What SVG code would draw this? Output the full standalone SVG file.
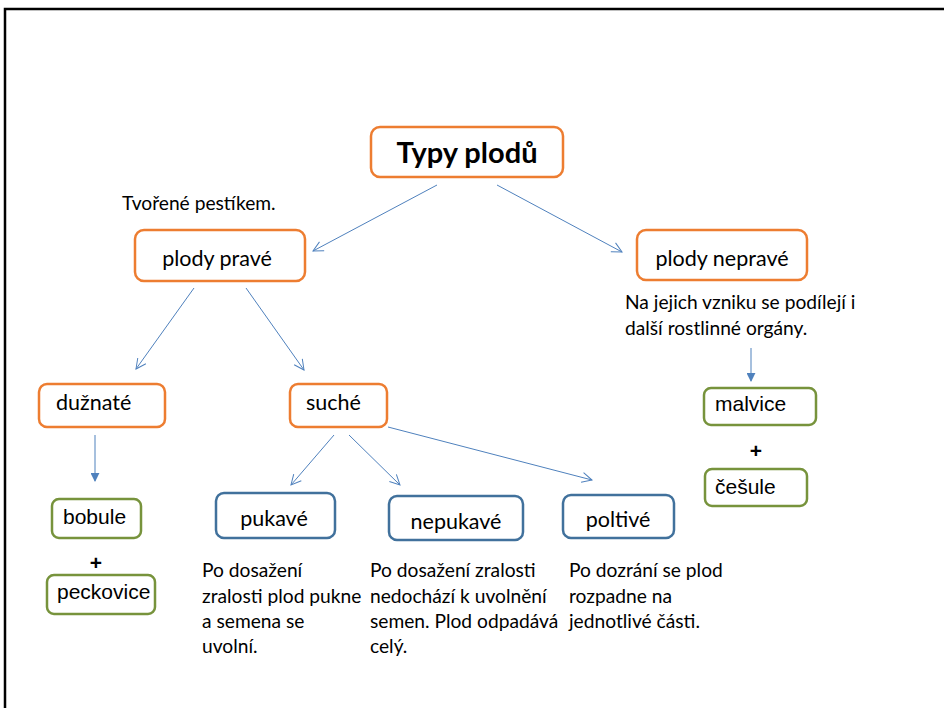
<svg xmlns="http://www.w3.org/2000/svg" width="944" height="708" viewBox="0 0 944 708">
  <style>
    .bg { fill: #ffffff; }
    .frame { fill: none; stroke: #000000; stroke-width: 2.5; }
    .box { fill: #ffffff; stroke-width: 2.5; }
    .orange { stroke: #ED7D31; }
    .blue { stroke: #41719C; }
    .green { stroke: #77933C; }
    .lbl { font-family: Lato, "Open Sans", sans-serif; font-size: 21.5px; fill: #000000; }
    .title { font-family: Lato, "Open Sans", sans-serif; font-size: 29px; font-weight: bold; fill: #000000; }
    .arial { font-family: "Liberation Sans", Arial, sans-serif; font-size: 21px; fill: #000000; }
    .note { font-family: Lato, "Open Sans", sans-serif; font-size: 19.2px; fill: #000000; }
    .conn { fill: none; stroke: #4F81BD; stroke-width: 1; }
  </style>
  <defs>
    <marker id="open" viewBox="0 0 12 12" refX="11" refY="6" markerWidth="12" markerHeight="12" markerUnits="userSpaceOnUse" orient="auto">
      <path d="M1,1 L11,6 L1,11" fill="none" stroke="#4F81BD" stroke-width="1"/>
    </marker>
    <marker id="solid" viewBox="0 0 10 10" refX="9" refY="5" markerWidth="9" markerHeight="9" markerUnits="userSpaceOnUse" orient="auto">
      <path d="M0,0 L10,5 L0,10 Z" fill="#4F81BD"/>
    </marker>
  </defs>

  <rect class="bg" x="0" y="0" width="944" height="708"/>
  <rect class="frame" x="5" y="9" width="1000" height="800"/>

  <!-- connectors -->
  <g id="connectors">
    <line class="conn" x1="437" y1="185" x2="313" y2="251" marker-end="url(#open)"/>
    <line class="conn" x1="497" y1="185" x2="622" y2="252" marker-end="url(#open)"/>
    <line class="conn" x1="194" y1="288" x2="136" y2="369" marker-end="url(#open)"/>
    <line class="conn" x1="246" y1="288" x2="304" y2="370" marker-end="url(#open)"/>
    <line class="conn" x1="95" y1="435" x2="95" y2="481" marker-end="url(#solid)"/>
    <line class="conn" x1="751" y1="348" x2="751" y2="381" marker-end="url(#solid)"/>
    <line class="conn" x1="334" y1="435" x2="291" y2="485" marker-end="url(#open)"/>
    <line class="conn" x1="349" y1="435" x2="400" y2="485" marker-end="url(#open)"/>
    <line class="conn" x1="388" y1="427" x2="592" y2="480" marker-end="url(#open)"/>
  </g>

  <!-- root -->
  <g id="typy-plodu">
    <rect class="box orange" x="371" y="127" width="192" height="50" rx="9"/>
    <text class="title" x="467" y="163" text-anchor="middle">Typy plodů</text>
  </g>

  <!-- first level -->
  <g id="plody-prave">
    <text class="note" x="122" y="210">Tvořené pestíkem.</text>
    <rect class="box orange" x="135" y="230" width="170" height="51" rx="9"/>
    <text class="lbl" x="217" y="266" text-anchor="middle">plody pravé</text>
  </g>
  <g id="plody-neprave">
    <rect class="box orange" x="637" y="230" width="170" height="50" rx="9"/>
    <text class="lbl" x="722" y="266" text-anchor="middle">plody nepravé</text>
    <text class="note" x="625" y="309">Na jejich vzniku se podílejí i</text>
    <text class="note" x="625" y="335">další rostlinné orgány.</text>
  </g>

  <!-- second level -->
  <g id="duznate">
    <rect class="box orange" x="39" y="384" width="126" height="43" rx="8"/>
    <text class="lbl" x="56" y="410">dužnaté</text>
  </g>
  <g id="suche">
    <rect class="box orange" x="290" y="384" width="97" height="43" rx="8"/>
    <text class="lbl" x="306" y="410">suché</text>
  </g>
  <g id="malvice">
    <rect class="box green" x="704" y="388" width="112" height="37" rx="7"/>
    <text class="arial" x="715" y="411">malvice</text>
  </g>
  <g id="plus-right">
    <text class="arial" x="756" y="458" text-anchor="middle" font-weight="bold">+</text>
  </g>
  <g id="cesule">
    <rect class="box green" x="705" y="469" width="102" height="37" rx="7"/>
    <text class="arial" x="715" y="494">češule</text>
  </g>

  <!-- third level -->
  <g id="bobule">
    <rect class="box green" x="52" y="499" width="89" height="39" rx="7"/>
    <text class="arial" x="63" y="524">bobule</text>
  </g>
  <g id="plus-left">
    <text class="arial" x="96" y="570" text-anchor="middle" font-weight="bold">+</text>
  </g>
  <g id="peckovice">
    <rect class="box green" x="47" y="575" width="108" height="39" rx="7"/>
    <text class="arial" x="57" y="599">peckovice</text>
  </g>

  <g id="pukave">
    <rect class="box blue" x="216" y="493" width="119" height="45" rx="8"/>
    <text class="lbl" x="274" y="526" text-anchor="middle">pukavé</text>
    <text class="note" x="202" y="577">Po dosažení</text>
    <text class="note" x="202" y="603">zralosti plod pukne</text>
    <text class="note" x="202" y="628">a semena se</text>
    <text class="note" x="202" y="653">uvolní.</text>
  </g>
  <g id="nepukave">
    <rect class="box blue" x="389" y="496" width="134" height="44" rx="8"/>
    <text class="lbl" x="456" y="529" text-anchor="middle">nepukavé</text>
    <text class="note" x="370" y="577">Po dosažení zralosti</text>
    <text class="note" x="370" y="603">nedochází k uvolnění</text>
    <text class="note" x="370" y="628">semen. Plod odpadává</text>
    <text class="note" x="370" y="653">celý.</text>
  </g>
  <g id="poltive">
    <rect class="box blue" x="563" y="495" width="111" height="43" rx="8"/>
    <text class="lbl" x="618" y="527" text-anchor="middle">poltivé</text>
    <text class="note" x="569" y="577">Po dozrání se plod</text>
    <text class="note" x="569" y="603">rozpadne na</text>
    <text class="note" x="569" y="628">jednotlivé části.</text>
  </g>
</svg>
